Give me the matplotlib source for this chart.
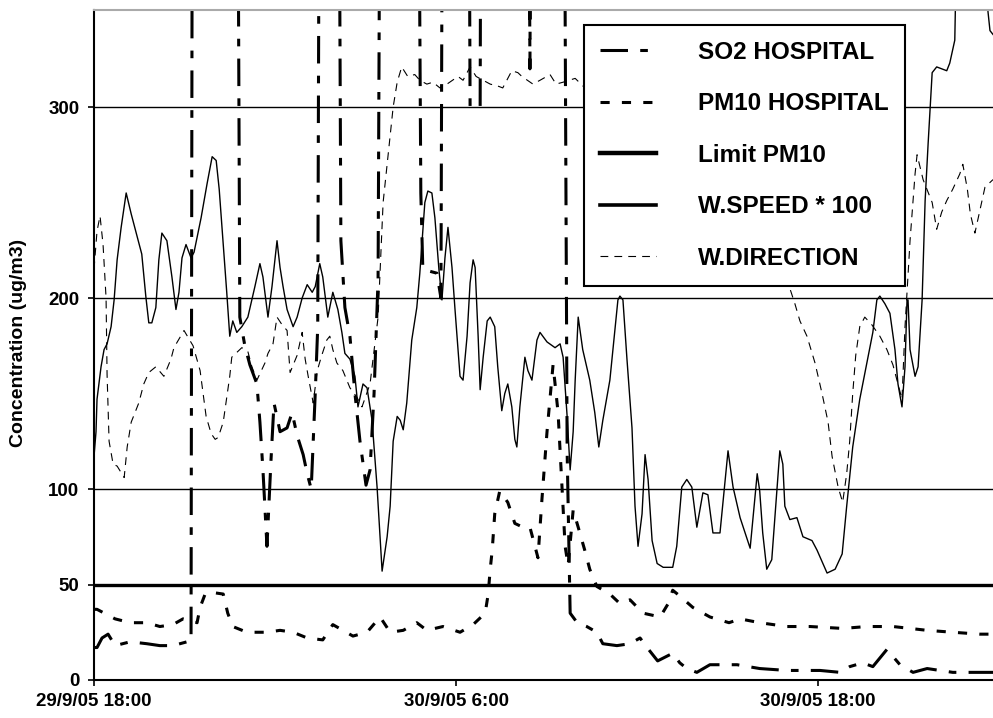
import numpy as np
import matplotlib.pyplot as plt

plt.rcParams['font.family'] = ['Liberation Sans', 'DejaVu Sans']

# time axis: minutes after 29/9/05 18:00
speed_min = [0, 4, 6, 14, 20, 26, 34, 40, 46, 54, 64, 74, 86, 95, 103, 109, 115, 123, 129, 135,
             145, 155, 163, 169, 175, 183, 193, 199, 213, 225, 235, 243, 249, 259, 264, 270, 276, 284,
             294, 306, 320, 330, 336, 346, 354, 364, 370, 376, 384, 396, 404, 414, 424, 434, 440, 449,
             455, 465, 475, 485, 493, 499, 509, 519, 525, 535, 543, 553, 563, 573, 583, 589, 595, 603,
             609, 615, 622, 632, 642, 648, 658, 664, 672, 678, 686, 692, 698, 704, 712, 718, 728, 734,
             742, 748, 754, 758, 764, 768, 774, 782, 788, 797, 803, 811, 817, 823, 831, 837, 841, 847,
             857, 863, 871, 881, 887, 901, 917, 927, 933, 941, 947, 953, 957, 963, 972, 986, 996, 1004,
             1012, 1026, 1036, 1042, 1046, 1052, 1060, 1070, 1076, 1082, 1090, 1096, 1102, 1110, 1120,
             1132, 1151, 1159, 1169, 1179, 1189, 1199, 1211, 1221, 1231, 1245, 1261, 1271, 1285, 1305,
             1319, 1324, 1330, 1338, 1348, 1358, 1364, 1370, 1374, 1384, 1398, 1410, 1428, 1438, 1458,
             1474, 1488, 1497, 1509, 1523, 1537, 1549, 1557, 1563, 1573, 1583, 1593, 1599, 1607, 1613,
             1617, 1619, 1623, 1633, 1639, 1647, 1653, 1659, 1667, 1676, 1696, 1702, 1712, 1718, 1774,
             1778, 1782, 1788]
speed_val = [117, 130, 147, 164, 173, 176, 185, 199, 220, 237, 255, 244, 232, 223, 201, 187, 187, 195, 220, 234,
             230, 211, 194, 203, 221, 228, 221, 224, 242, 260, 274, 272, 257, 221, 203, 180, 188, 182,
             185, 190, 206, 218, 211, 190, 206, 230, 216, 206, 194, 185, 190, 200, 207, 203, 206, 218,
             211, 190, 203, 194, 182, 171, 168, 159, 143, 155, 153, 136, 101, 57, 75, 91, 125, 138,
             136, 131, 145, 178, 195, 213, 250, 256, 255, 242, 215, 199, 221, 237, 216, 194, 159, 157,
             180, 208, 220, 216, 180, 152, 169, 188, 190, 185, 164, 141, 150, 155, 143, 126, 122, 143,
             169, 162, 157, 178, 182, 177, 174, 176, 169, 138, 110, 130, 157, 190, 173, 157, 140, 122,
             136, 157, 183, 199, 201, 199, 168, 132, 91, 70, 87, 118, 105, 73, 61,
             59, 59, 70, 101, 105, 101, 80, 98, 97, 77, 77, 120, 101, 85, 69,
             108, 99, 77, 58, 63, 99, 120, 113, 91, 84, 85, 75, 73, 68, 56,
             58, 66, 91, 122, 147, 166, 182, 199, 201, 197, 192, 173, 155, 143, 164,
             199, 199, 173, 159, 164, 199, 251, 281, 318, 321, 319, 323, 335, 420, 420,
             350, 340, 338]

so2_min = [0, 6, 16, 28, 42, 72, 105, 131, 157, 185, 193, 197, 282, 290, 300, 310, 324, 330, 336, 344,
           352, 358, 370, 384, 394, 404, 416, 424, 432, 440, 445, 451, 483, 491, 499, 509, 519, 529, 541,
           549, 557, 565, 573, 640, 650, 654, 682, 690, 696, 742, 748, 768, 772, 861, 867, 873, 931, 941,
           947, 961, 980, 1000, 1012, 1040, 1066, 1086, 1100, 1121, 1151, 1165, 1179, 1199, 1225, 1279,
           1324, 1378, 1444, 1484, 1503, 1529, 1549, 1577, 1603, 1629, 1657, 1708, 1762, 1788]
so2_val = [17, 17, 22, 24, 18, 20, 19, 18, 18, 20, 20, 700, 700, 190, 175, 165, 155, 135, 110, 70,
           115, 145, 130, 132, 140, 128, 118, 108, 100, 150, 185, 700, 700, 230, 195, 180, 150, 125, 102,
           110, 150, 210, 700, 700, 255, 215, 213, 200, 700, 700, 300, 300, 700, 700, 320, 700, 700, 120,
           35, 30, 28, 25, 19, 18, 19, 22, 17, 10, 14, 9, 6, 4, 8, 8,
           6, 5, 5, 4, 7, 9, 7, 16, 8, 4, 6, 4, 4, 4]

pm10_min = [0, 6, 42, 72, 105, 131, 157, 177, 205, 211, 221, 231, 257, 266, 276, 304, 344, 370, 396, 424,
            455, 475, 495, 515, 543, 569, 589, 615, 642, 662, 694, 728, 754, 778, 784, 788, 792, 797, 807,
            823, 837, 853, 867, 877, 883, 891, 901, 913, 923, 931, 937, 943, 953, 963, 976, 986, 1000,
            1026, 1046, 1066, 1092, 1126, 1142, 1151, 1165, 1191, 1225, 1263, 1285, 1324, 1378, 1424,
            1489, 1537, 1589, 1657, 1708, 1762, 1788]
pm10_val = [37, 37, 32, 30, 30, 28, 29, 32, 30, 38, 45, 46, 45, 35, 28, 25, 25, 26, 25, 22,
            21, 29, 26, 23, 25, 33, 25, 26, 30, 26, 28, 25, 29, 35, 45, 58, 68, 87, 99,
            93, 82, 80, 80, 70, 64, 95, 130, 165, 140, 100, 70, 60, 89, 80, 68, 58, 49,
            45, 40, 42, 35, 33, 40, 47, 44, 38, 33, 30, 32, 30, 28, 28,
            27, 28, 28, 26, 25, 24, 24]

wdir_min = [0, 6, 12, 18, 24, 26, 30, 38, 46, 60, 66, 74, 89, 99, 109, 123, 139, 153, 159, 179,
            197, 211, 217, 223, 233, 241, 247, 257, 264, 270, 274, 294, 306, 314, 324, 340, 346, 356,
            364, 374, 384, 390, 404, 414, 420, 426, 436, 444, 453, 463, 469, 475, 483, 495, 509, 523,
            533, 549, 565, 575, 585, 595, 603, 612, 624, 638, 648, 662, 674, 688, 702, 724, 734, 748,
            760, 774, 788, 803, 813, 831, 843, 851, 873, 887, 907, 919, 933, 957, 1384, 1394, 1404,
            1418, 1434, 1448, 1460, 1468, 1480, 1489, 1497, 1503, 1509, 1515, 1523, 1533, 1547, 1563,
            1577, 1589, 1599, 1607, 1613, 1623, 1633, 1637, 1649, 1667, 1676, 1686, 1696, 1708, 1722,
            1728, 1737, 1743, 1752, 1762, 1772, 1788]
wdir_val = [215, 235, 243, 228, 200, 160, 125, 113, 112, 106, 122, 135, 145, 155, 161, 164, 159, 168, 174, 183,
            175, 162, 150, 138, 129, 126, 127, 135, 148, 159, 169, 174, 172, 164, 157, 166, 171, 176,
            190, 186, 183, 161, 170, 182, 168, 159, 145, 162, 170, 178, 180, 173, 166, 162, 153, 148,
            143, 155, 190, 250, 275, 300, 313, 321, 316, 317, 314, 312, 313, 310, 312, 316, 314, 321,
            316, 314, 312, 311, 310, 319, 318, 316, 312, 314, 317, 312, 313, 315, 205, 197, 188,
            180, 166, 150, 135, 117, 101, 93, 108, 125, 150, 170, 185, 190, 186, 180,
            173, 165, 155, 147, 185, 230, 265, 275, 262, 250, 236, 245, 251, 257, 265,
            270, 257, 244, 234, 246, 258, 262]

limit_pm10 = 50

y_ticks = [0, 50, 100, 200, 300]
x_ticks_h = [0, 12, 24]
x_labels = ['29/9/05 18:00', '30/9/05 6:00', '30/9/05 18:00']


def hours(m):
    return np.array(m) / 60.0


fig = plt.figure(figsize=(9.93, 7.18), dpi=100)
ax = fig.add_axes([94 / 993, 1 - 680 / 718, 899 / 993, 670 / 718])

for v in [100, 200, 300]:
    ax.axhline(v, color='black', lw=1.0, zorder=1)

so2, = ax.plot(hours(so2_min), so2_val, color='black', lw=2.2, label='SO2 HOSPITAL')
so2.set_dashes([9, 4, 2.5, 4])
pm10, = ax.plot(hours(pm10_min), pm10_val, color='black', lw=2.2, label='PM10 HOSPITAL')
pm10.set_dashes([3, 4])
lim = ax.axhline(limit_pm10, color='black', lw=2.4, label='Limit PM10')
spd, = ax.plot(hours(speed_min), speed_val, color='black', lw=1.0, label='W.SPEED * 100')
wd, = ax.plot(hours(wdir_min), wdir_val, color='black', lw=0.8, label='W.DIRECTION')
wd.set_dashes([7, 5.5])

ax.set_xlim(0, 29.8)
ax.set_ylim(0, 350.8)

ax.set_yticks(y_ticks)
ax.set_yticklabels([str(v) for v in y_ticks], fontweight='bold', fontsize=13.5)
ax.set_xticks(x_ticks_h)
ax.set_xticklabels(x_labels, fontweight='bold', fontsize=13.5)
ax.tick_params(direction='out', length=4.5, width=1.2, color='black')
ax.tick_params(axis='y', pad=6)
ax.tick_params(axis='x', pad=5)

for s in ['left', 'bottom']:
    ax.spines[s].set_linewidth(1.5)
ax.spines['top'].set_color('#aaaaaa')
ax.spines['top'].set_linewidth(1.5)
ax.spines['right'].set_visible(False)

fig.text(19 / 993, 1 - 343 / 718, 'Concentration (ug/m3)', rotation=90, ha='center', va='center',
         fontweight='bold', fontsize=14)

leg = ax.legend(handles=[so2, pm10, lim, spd, wd], loc='upper left', bbox_to_anchor=(0.545, 0.978),
                borderaxespad=0, frameon=True, fancybox=False, framealpha=1, edgecolor='black',
                prop=dict(weight='bold', size=17.5), handlelength=2.3, handletextpad=1.75,
                labelspacing=1.17, borderpad=0.66)
leg.get_frame().set_linewidth(1.5)
leg.get_lines()[2].set_linewidth(3.2)
leg.get_lines()[3].set_linewidth(2.6)

fig.savefig('out.png', dpi=100)
